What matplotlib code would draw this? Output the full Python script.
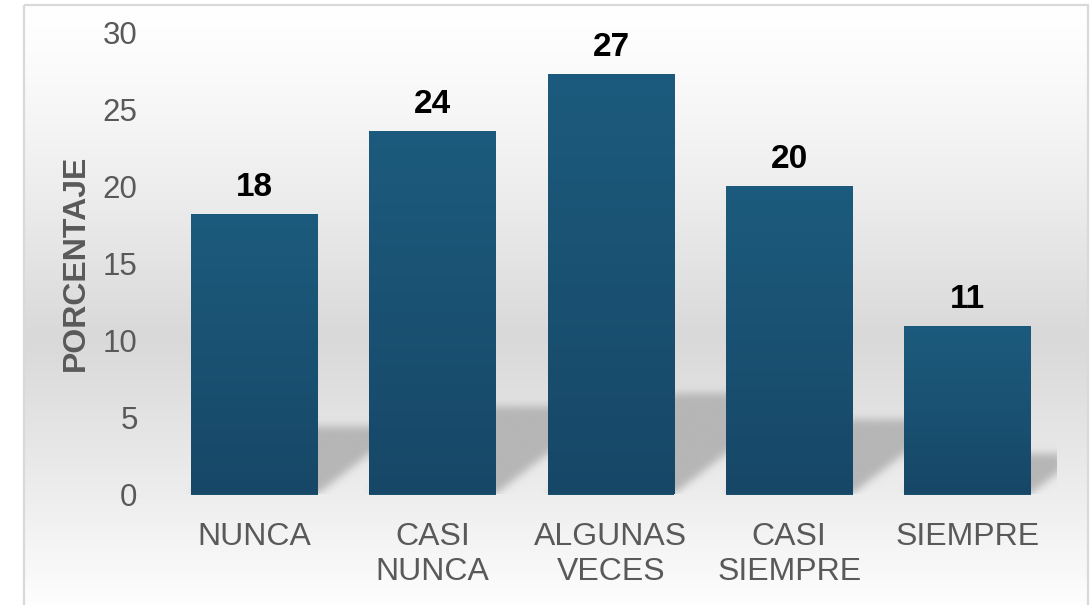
import numpy as np
import matplotlib
matplotlib.use("Agg")
import matplotlib.pyplot as plt
from matplotlib.patches import Rectangle
from matplotlib.colors import to_rgb

plt.rcParams['font.family'] = ['Liberation Sans', 'DejaVu Sans']

# ---- data ----
categories = ["NUNCA", "CASI\nNUNCA", "ALGUNAS\nVECES", "CASI\nSIEMPRE", "SIEMPRE"]
values = [18.2, 23.6, 27.3, 20.0, 10.9]
value_labels = ["18", "24", "27", "20", "11"]
y_ticks = [0, 5, 10, 15, 20, 25, 30]
y_label = "PORCENTAJE"

W, H = 1092, 605
fig = plt.figure(figsize=(W / 100, H / 100), dpi=100)
fig.patch.set_facecolor("white")

# ---- background panel with vertical gradient + frame ----
bg = fig.add_axes([0, 0, 1, 1], zorder=0)
bg.set_xlim(0, W)
bg.set_ylim(H, 0)
bg.axis("off")
ys = np.linspace(5, 615, 400)
top_c, mid_c, bot_c = 255, 217, 255
mid_y = 335
g = np.where(ys < mid_y,
             top_c + (mid_c - top_c) * ((ys - 5) / (mid_y - 5)) ** 1.3,
             mid_c + (bot_c - mid_c) * ((ys - mid_y) / (615 - mid_y)) ** 1.1)
grad = np.repeat((g / 255.0)[:, None], 2, axis=1)
bg.imshow(np.dstack([grad, grad, grad]), extent=[24, 1088, 615, 5],
          aspect="auto", interpolation="bilinear", zorder=0)
bg.add_patch(Rectangle((24, 5), 1064, 620, fill=False, edgecolor="#d9d9d9",
                       linewidth=1.6, zorder=1))

# ---- main axes ----
left_px, right_px, top_px, bot_px = 165.4, 1056.6, 32.0, 494.5
ax = fig.add_axes([left_px / W, 1 - bot_px / H, (right_px - left_px) / W,
                   (bot_px - top_px) / H], zorder=1)
ax.patch.set_alpha(0)
x = np.arange(len(categories))
bar_w = 0.7125

# shadow (blurred sheared copies of the bars)
px_per_x = (right_px - left_px) / len(categories)
px_per_y = (bot_px - top_px) / 30.0
k = 0.24
shear = 1.28 * px_per_y / px_per_x  # data-x per data-y
x_clip = 4.53
ymax_s = 9.0
nx = int((x_clip + 0.5) * px_per_x)
ny = int(ymax_s * px_per_y)
gx = np.linspace(-0.5, x_clip, nx)
gy = np.linspace(0, ymax_s, ny)
XX, YY = np.meshgrid(gx, gy)
mask = np.zeros_like(XX)
for xi, v in zip(x, values):
    x0, x1 = xi - bar_w / 2, xi + bar_w / 2
    inside = (YY >= 0) & (YY <= k * v) & (XX >= x0 + shear * YY) & (XX <= x1 + shear * YY)
    mask[inside] = 1.0
# gaussian blur (pixel units)
sig = 4.0
kr = np.arange(-12, 13)
kern = np.exp(-kr ** 2 / (2 * sig ** 2))
kern /= kern.sum()
mask = np.apply_along_axis(lambda r: np.convolve(r, kern, mode="same"), 1, mask)
mask = np.apply_along_axis(lambda c: np.convolve(c, kern, mode="same"), 0, mask)
mask[:, -1] = 0
sc = to_rgb("#b6b6b6")
shadow = np.zeros((ny, nx, 4))
shadow[..., 0], shadow[..., 1], shadow[..., 2] = sc
shadow[..., 3] = np.clip(mask, 0, 1)
ax.imshow(shadow, extent=[-0.5, x_clip, 0, ymax_s], origin="lower",
          aspect="auto", interpolation="bilinear", zorder=1)

# bars with vertical gradient
bars = ax.bar(x, values, width=bar_w, color="#1a5070", zorder=2)
c_top = np.array(to_rgb("#1c5b7d"))
c_bot = np.array(to_rgb("#174767"))
tt = np.linspace(0, 1, 256)[:, None]
bar_grad = (c_top * tt + c_bot * (1 - tt))[:, None, :]  # row 0 = bottom
for b in bars:
    bx, bw, bh = b.get_x(), b.get_width(), b.get_height()
    im = ax.imshow(bar_grad, extent=[bx, bx + bw, 0, bh], origin="lower",
                   aspect="auto", interpolation="bilinear", zorder=3)
    im.set_clip_path(b)

# value labels
for xi, v, lab in zip(x, values, value_labels):
    ax.annotate(lab, (xi, v), xytext=(0, 13), textcoords="offset points",
                ha="center", va="baseline", fontsize=24, fontweight="bold",
                color="black", zorder=4)

ax.set_xlim(-0.5, len(categories) - 0.5)
ax.set_ylim(0, 30)
ax.set_yticks(y_ticks)
ax.set_yticklabels([str(t) for t in y_ticks])
ax.set_xticks(x)
ax.set_xticklabels(categories, linespacing=1.22)
ax.tick_params(axis="y", length=0, pad=20, labelsize=22.5, labelcolor="#595959")
ax.tick_params(axis="x", length=0, pad=19.5, labelsize=23, labelcolor="#595959")
for s in ax.spines.values():
    s.set_visible(False)

fig.text(76 / W, 1 - 263 / H, y_label, rotation=90, ha="center", va="center",
         fontsize=23, fontweight="bold", color="#595959")

fig.savefig("out.png", dpi=100)
